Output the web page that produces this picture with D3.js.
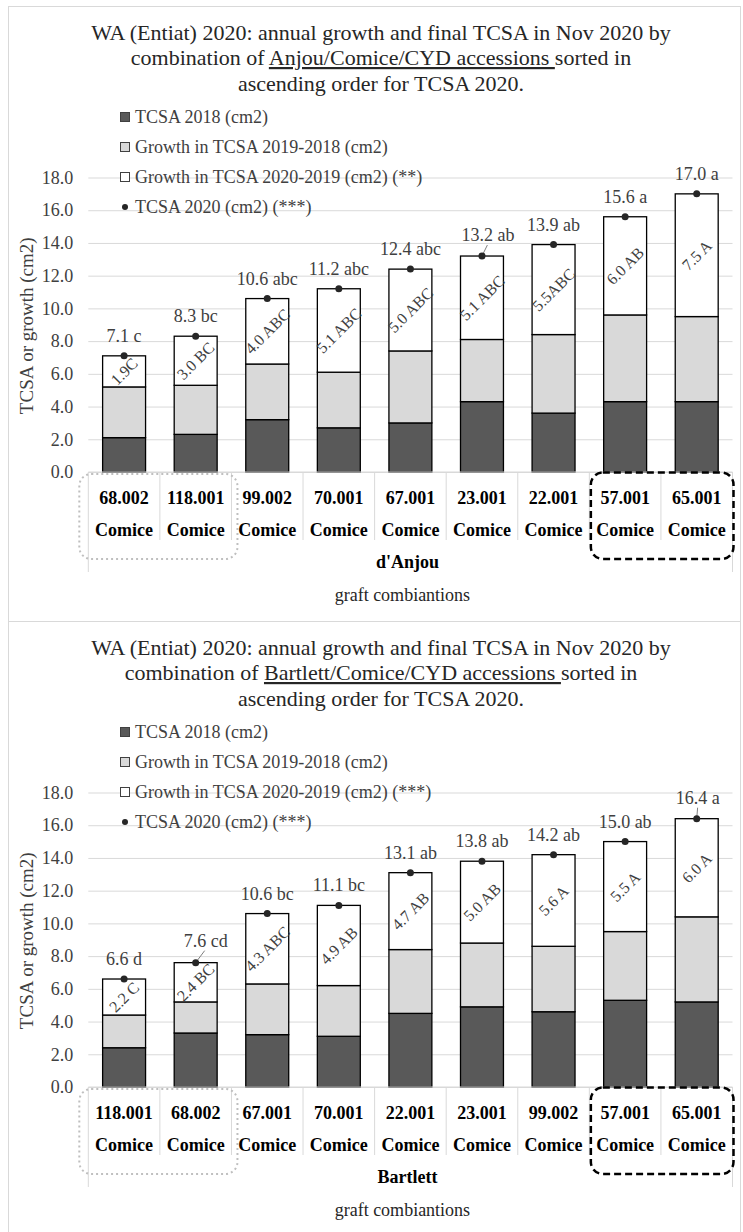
<!DOCTYPE html>
<meta charset="utf-8">

<!-- Load d3.js -->
<script src="https://d3js.org/d3.v7.min.js"></script>

<style>
  body { margin: 0; background: #fff; }
  svg, text, tspan { font-family: "Liberation Serif", "Times New Roman", serif; }
</style>

<!-- Create a div where the graph will take place -->
<div id="my_dataviz"></div>

<script>

// ---- chart 1 : d'Anjou / Comice ----
var anjouAccessions = ["68.002", "118.001", "99.002", "70.001", "67.001", "23.001", "22.001", "57.001", "65.001"];
var anjouTcsa2018   = [2.1, 2.3, 3.2, 2.7, 3.0, 4.3, 3.6, 4.3, 4.3];
var anjouGrowth1918 = [3.1, 3.0, 3.4, 3.4, 4.4, 3.8, 4.8, 5.3, 5.2];
var anjouGrowth2019 = [1.9, 3.0, 4.0, 5.1, 5.0, 5.1, 5.5, 6.0, 7.5];
var anjouTcsa2020   = [7.1, 8.3, 10.6, 11.2, 12.4, 13.2, 13.9, 15.6, 17.0];
var anjouTotalLabels  = ["7.1 c", "8.3 bc", "10.6 abc", "11.2 abc", "12.4 abc", "13.2 ab", "13.9 ab", "15.6 a", "17.0 a"];
var anjouGrowthLabels = ["1.9C", "3.0 BC", "4.0 ABC", "5.1 ABC", "5.0 ABC", "5.1 ABC", "5.5ABC", "6.0 AB", "7.5 A"];
var anjouLegend = ["TCSA 2018 (cm2)", "Growth in TCSA 2019-2018 (cm2)", "Growth in TCSA 2020-2019 (cm2) (**)", "TCSA 2020 (cm2) (***)"];

// ---- chart 2 : Bartlett / Comice ----
var bartAccessions = ["118.001", "68.002", "67.001", "70.001", "22.001", "23.001", "99.002", "57.001", "65.001"];
var bartTcsa2018   = [2.4, 3.3, 3.2, 3.1, 4.5, 4.9, 4.6, 5.3, 5.2];
var bartGrowth1918 = [2.0, 1.9, 3.1, 3.1, 3.9, 3.9, 4.0, 4.2, 5.2];
var bartGrowth2019 = [2.2, 2.4, 4.3, 4.9, 4.7, 5.0, 5.6, 5.5, 6.0];
var bartTcsa2020   = [6.6, 7.6, 10.6, 11.1, 13.1, 13.8, 14.2, 15.0, 16.4];
var bartTotalLabels  = ["6.6 d", "7.6 cd", "10.6 bc", "11.1 bc", "13.1 ab", "13.8 ab", "14.2 ab", "15.0 ab", "16.4 a"];
var bartGrowthLabels = ["2.2 C", "2.4 BC", "4.3 ABC", "4.9 AB", "4.7 AB", "5.0 AB", "5.6 A", "5.5 A", "6.0 A"];
var bartLegend = ["TCSA 2018 (cm2)", "Growth in TCSA 2019-2018 (cm2)", "Growth in TCSA 2020-2019 (cm2) (***)", "TCSA 2020 (cm2) (***)"];

var yTicks = [0, 2, 4, 6, 8, 10, 12, 14, 16, 18];
var scion = "Comice";

var FONT = '"Liberation Serif", "Times New Roman", serif';

// colours of the stacked segments
var segColor = d3.scaleOrdinal()
  .domain(["tcsa2018", "g1918", "g2019"])
  .range(["#595959", "#d9d9d9", "#ffffff"]);

var W = 743, H = 1232;
var svg = d3.select("#my_dataviz")
  .append("svg")
    .attr("width", W)
    .attr("height", H)
    .style("font-family", FONT);

function drawChart(top, c) {
  var g = svg.append("g").attr("transform", "translate(0," + top + ")");

  // panel border
  g.append("rect")
    .attr("x", 8.5).attr("y", 6.5)
    .attr("width", 732).attr("height", 615)
    .attr("fill", "none").attr("stroke", "#d9d9d9");

  var x = d3.scaleBand()
    .domain(d3.range(c.accessions.length))
    .range([88.3, 732.5])
    .paddingInner(0.4)
    .paddingOuter(0.2);
  var y = d3.scaleLinear().domain([0, 18]).range([472, 177.5]);
  var step = x.step(), x0 = x.range()[0], x1 = x.range()[1];
  var cx = function(i) { return x(i) + x.bandwidth() / 2; };

  // title
  var title = g.append("text")
    .attr("text-anchor", "middle")
    .attr("font-size", 22)
    .attr("fill", "#262626")
    .style("font-family", FONT);
  title.append("tspan").attr("x", 381).attr("y", 39.5)
    .text("WA (Entiat) 2020: annual growth and final TCSA in Nov 2020 by");
  var l2 = title.append("tspan").attr("x", 381).attr("y", 65);
  l2.append("tspan").text("combination of ");
  l2.append("tspan").attr("text-decoration", "underline").text(c.underlined + "\u00a0");
  l2.append("tspan").text("sorted in");
  title.append("tspan").attr("x", 381).attr("y", 90.7)
    .text("ascending order for TCSA 2020.");

  // gridlines + y axis
  var yAxis = g.append("g")
    .attr("transform", "translate(" + x0 + ",0)")
    .call(d3.axisLeft(y).tickValues(yTicks).tickSize(-(x1 - x0)).tickPadding(15).tickFormat(d3.format(".1f")));
  yAxis.attr("font-family", null);
  yAxis.select(".domain").remove();
  yAxis.selectAll("line").attr("stroke", "#d9d9d9");
  yAxis.selectAll("text")
    .attr("font-size", 18)
    .attr("fill", "#404040")
    .style("font-family", FONT);

  g.append("text")
    .attr("transform", "translate(33," + (y(9) + 1) + ") rotate(-90)")
    .attr("text-anchor", "middle")
    .attr("font-size", 19)
    .attr("fill", "#404040")
    .text("TCSA or growth (cm2)");

  // legend
  var legend = g.selectAll(".leg").data(c.legend).enter().append("g")
    .attr("transform", function(d, i) { return "translate(120," + (123 + i * 30) + ")"; });
  legend.each(function(d, i) {
    var s = d3.select(this);
    if (i < 3) {
      s.append("rect").attr("x", 0.5).attr("y", -10.5).attr("width", 9).attr("height", 9)
        .attr("fill", segColor.range()[i]).attr("stroke", "#404040").attr("stroke-width", 1);
    } else {
      s.append("circle").attr("cx", 5).attr("cy", -6).attr("r", 3).attr("fill", "#262626");
    }
  });
  legend.append("text")
    .attr("x", 15).attr("y", 0)
    .attr("font-size", 18)
    .attr("fill", "#404040")
    .text(function(d) { return d; });

  // stacked bars
  var rows = c.accessions.map(function(a, i) {
    return { i: i, tcsa2018: c.tcsa2018[i], g1918: c.growth1918[i], g2019: c.growth2019[i] };
  });
  var series = d3.stack().keys(["tcsa2018", "g1918", "g2019"])(rows);

  g.selectAll(".layer").data(series).enter().append("g")
      .attr("fill", function(d) { return segColor(d.key); })
    .selectAll("rect").data(function(d) { return d; }).enter().append("rect")
      .attr("x", function(d) { return x(d.data.i); })
      .attr("y", function(d) { return y(d[1]); })
      .attr("width", x.bandwidth())
      .attr("height", function(d) { return y(d[0]) - y(d[1]); })
      .attr("stroke", "#000")
      .attr("stroke-width", 1.3);

  // rotated growth labels inside the white segment
  g.selectAll(".glab").data(series[2]).enter().append("text")
    .attr("transform", function(d) {
      return "translate(" + cx(d.data.i) + "," + ((y(d[0]) + y(d[1])) / 2) + ") rotate(-45)";
    })
    .attr("text-anchor", "middle")
    .attr("dy", "0.35em")
    .attr("font-size", 16)
    .attr("fill", "#404040")
    .text(function(d) { return c.growthLabels[d.data.i]; });

  // TCSA 2020 markers and labels
  var pts = c.tcsa2020.map(function(v, i) {
    return { i: i, v: v, label: c.totalLabels[i], nudge: c.nudge[i] || null };
  });

  g.selectAll(".lead").data(pts.filter(function(p) { return p.nudge; })).enter().append("line")
    .attr("x1", function(p) { return cx(p.i); })
    .attr("y1", function(p) { return y(p.v); })
    .attr("x2", function(p) { return cx(p.i) + p.nudge.dx * 0.9; })
    .attr("y2", function(p) { return y(p.v) - p.nudge.dy + 4; })
    .attr("stroke", "#7f7f7f").attr("stroke-width", 1);

  g.selectAll(".dot").data(pts).enter().append("circle")
    .attr("cx", function(p) { return cx(p.i); })
    .attr("cy", function(p) { return y(p.v); })
    .attr("r", 3.5)
    .attr("fill", "#262626");

  g.selectAll(".tlab").data(pts).enter().append("text")
    .attr("x", function(p) { return cx(p.i) + (p.nudge ? p.nudge.dx : 0); })
    .attr("y", function(p) { return y(p.v) - (p.nudge ? p.nudge.dy : 14); })
    .attr("text-anchor", "middle")
    .attr("font-size", 18)
    .attr("fill", "#404040")
    .text(function(p) { return p.label; });

  // category axis
  g.append("line").attr("x1", x0).attr("x2", x1).attr("y1", y(0)).attr("y2", y(0))
    .attr("stroke", "#d9d9d9");
  g.selectAll(".sep").data(d3.range(c.accessions.length + 1)).enter().append("line")
    .attr("x1", function(i) { return x0 + i * step; })
    .attr("x2", function(i) { return x0 + i * step; })
    .attr("y1", y(0))
    .attr("y2", function(i) { return (i === 0 || i === c.accessions.length) ? 572 : 540; })
    .attr("stroke", "#d9d9d9");

  g.selectAll(".acc").data(c.accessions).enter().append("text")
    .attr("x", function(d, i) { return cx(i); })
    .attr("y", 503.5)
    .attr("text-anchor", "middle")
    .attr("font-size", 18).attr("font-weight", "bold").attr("fill", "#000")
    .text(function(d) { return d; });
  g.selectAll(".sci").data(c.accessions).enter().append("text")
    .attr("x", function(d, i) { return cx(i); })
    .attr("y", 536)
    .attr("text-anchor", "middle")
    .attr("font-size", 18).attr("font-weight", "bold").attr("fill", "#000")
    .text(scion);
  g.append("text")
    .attr("x", (x0 + x1) / 2 - 3).attr("y", 568)
    .attr("text-anchor", "middle")
    .attr("font-size", 18).attr("font-weight", "bold").attr("fill", "#000")
    .text(c.group);
  g.append("text")
    .attr("x", (x0 + x1) / 2 - 8).attr("y", 600.5)
    .attr("text-anchor", "middle")
    .attr("font-size", 18).attr("fill", "#262626")
    .text("graft combiantions");

  // highlight boxes (first two = smallest, last two = largest)
  g.append("rect")
    .attr("x", x0 - 9).attr("y", y(0) + 2)
    .attr("width", 2 * step + 15).attr("height", 85)
    .attr("rx", 12)
    .attr("fill", "none").attr("stroke", "#bfbfbf").attr("stroke-width", 2)
    .attr("stroke-dasharray", "2,3");
  g.append("rect")
    .attr("x", x0 + 7 * step + 1.5).attr("y", y(0) + 0.5)
    .attr("width", 2 * step - 0.5).attr("height", 86.5)
    .attr("rx", 12)
    .attr("fill", "none").attr("stroke", "#000").attr("stroke-width", 2.5)
    .attr("stroke-dasharray", "7,4");
}

drawChart(0, {
  accessions: anjouAccessions,
  tcsa2018: anjouTcsa2018,
  growth1918: anjouGrowth1918,
  growth2019: anjouGrowth2019,
  tcsa2020: anjouTcsa2020,
  totalLabels: anjouTotalLabels,
  growthLabels: anjouGrowthLabels,
  legend: anjouLegend,
  underlined: "Anjou/Comice/CYD accessions",
  group: "d'Anjou",
  nudge: {5: {dx: 6, dy: 15}}
});

drawChart(615, {
  accessions: bartAccessions,
  tcsa2018: bartTcsa2018,
  growth1918: bartGrowth1918,
  growth2019: bartGrowth2019,
  tcsa2020: bartTcsa2020,
  totalLabels: bartTotalLabels,
  growthLabels: bartGrowthLabels,
  legend: bartLegend,
  underlined: "Bartlett/Comice/CYD accessions",
  group: "Bartlett",
  nudge: {1: {dx: 10, dy: 16}, 8: {dx: 1, dy: 15}}
});

</script>
